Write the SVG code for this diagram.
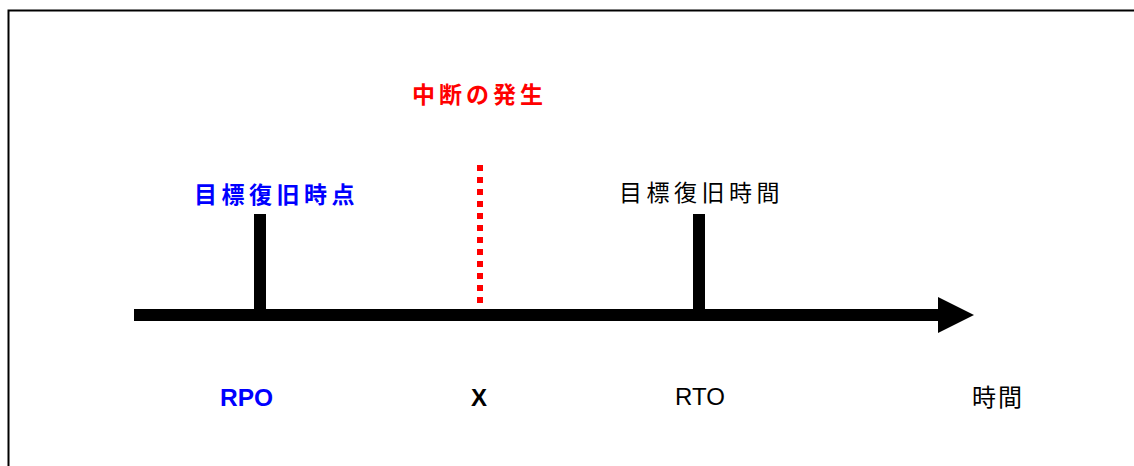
<svg xmlns="http://www.w3.org/2000/svg" width="1134" height="466" viewBox="0 0 1134 466">
<style>
.jp{font-family:"Liberation Sans","Noto Sans CJK JP",sans-serif;font-size:23px;letter-spacing:4.5px}
.lat{font-family:"Liberation Sans",Arial,sans-serif;font-size:24px}
.b{font-weight:bold}
.stem{fill:#000}
</style>
<rect width="1134" height="466" fill="#fff"/>
<rect x="8.5" y="10.5" width="1140" height="470" fill="none" stroke="#000" stroke-width="2"/>
<g id="connectors">
<rect x="134" y="309" width="806" height="12" fill="#000"/>
<polygon points="938,297 974,315 938,333" fill="#000"/>
</g>
<g id="rpo">
<rect class="stem" x="254" y="214" width="12" height="100"/>
<text class="jp b" x="194" y="203" fill="#0000ff">目標復旧時点</text>
<text class="lat b" x="220" y="406" fill="#0000ff" style="font-size:24.5px">RPO</text>
</g>
<g id="interruption">
<line x1="480" y1="165" x2="480" y2="309" stroke="#ff0000" stroke-width="6" stroke-dasharray="6 6"/>
<text class="jp b" x="412" y="103" fill="#ff0000" style="letter-spacing:4px">中断の発生</text>
<text class="lat b" x="479" y="406" fill="#000" text-anchor="middle">X</text>
</g>
<g id="rto">
<rect class="stem" x="693" y="214" width="12" height="100"/>
<text class="jp" x="619" y="201" fill="#000">目標復旧時間</text>
<text class="lat" x="675" y="405" fill="#000">RTO</text>
</g>
<g id="time">
<text class="jp" x="972" y="406" fill="#000" style="font-size:24px;letter-spacing:2px">時間</text>
</g>
</svg>
